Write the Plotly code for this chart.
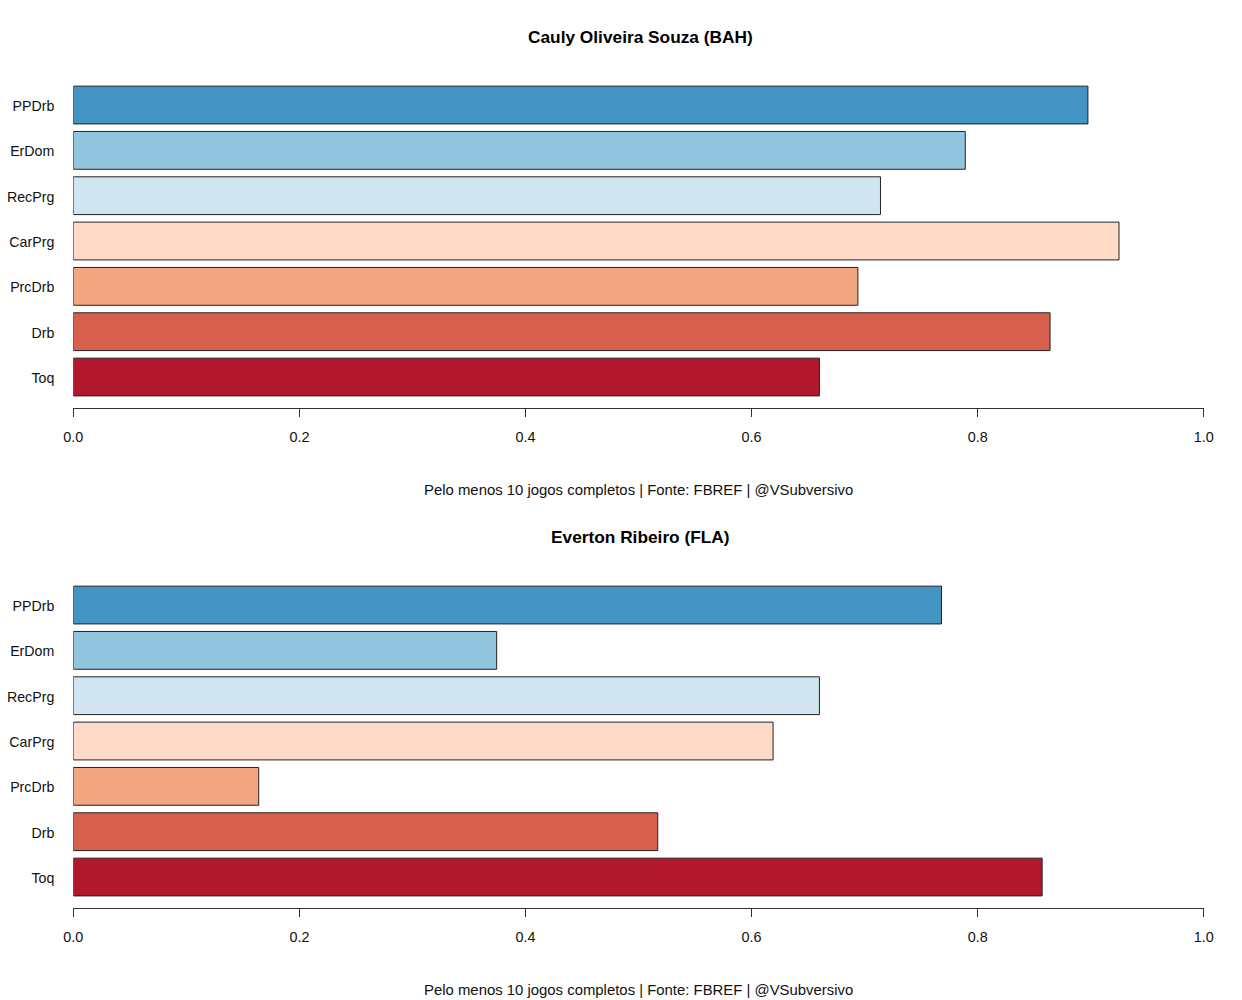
import plotly.graph_objects as go

# Data
categories = ["Toq", "Drb", "PrcDrb", "CarPrg", "RecPrg", "ErDom", "PPDrb"]  # bottom -> top
colors = ["#B2182B", "#D6604D", "#F4A582", "#FDDBC7", "#D1E5F0", "#92C5DE", "#4393C3"]
player1 = "Cauly Oliveira Souza (BAH)"
values1 = [0.660, 0.864, 0.694, 0.925, 0.714, 0.789, 0.8975]
player2 = "Everton Ribeiro (FLA)"
values2 = [0.857, 0.517, 0.164, 0.619, 0.660, 0.3745, 0.768]
caption = "Pelo menos 10 jogos completos | Fonte: FBREF | @VSubversivo"
x_ticks = [0.0, 0.2, 0.4, 0.6, 0.8, 1.0]
x_ticklabels = ["0.0", "0.2", "0.4", "0.6", "0.8", "1.0"]

FONT = "Liberation Sans, Arial, Helvetica, sans-serif"
W, H = 1242, 1000
OFF = 8  # page body margin

fig = go.Figure()
fig.add_trace(go.Bar(y=categories, x=values1, orientation="h",
                     marker=dict(color=colors, line=dict(color="#222222", width=1)),
                     xaxis="x", yaxis="y", showlegend=False, hoverinfo="x+y"))
fig.add_trace(go.Bar(y=categories, x=values2, orientation="h",
                     marker=dict(color=colors, line=dict(color="#222222", width=1)),
                     xaxis="x2", yaxis="y2", showlegend=False, hoverinfo="x+y"))

x_dom = [(73.3 - OFF) / W, (1203.8 - OFF) / W]
top1, bot1 = 70.0 - OFF, 408.3 - OFF
top2, bot2 = 570.0 - OFF, 908.3 - OFF

def xax(anchor):
    return dict(domain=x_dom, range=[0, 1], anchor=anchor, automargin=False,
                showgrid=False, zeroline=False, showline=True,
                linecolor="#333333", linewidth=1,
                ticks="outside", ticklen=8, tickwidth=1, tickcolor="#333333",
                tickvals=x_ticks, ticktext=x_ticklabels,
                tickfont=dict(family=FONT, size=14.4, color="#111111"),
                ticklabelstandoff=7, fixedrange=True)

def yax(anchor, top, bot):
    return dict(domain=[1 - bot / H, 1 - top / H], anchor=anchor, automargin=False,
                type="category", categoryorder="array", categoryarray=categories,
                range=[-0.69, 6.773], showgrid=False, zeroline=False,
                showline=False, ticks="", ticklabelstandoff=18, ticklabelshift=1,
                tickfont=dict(family=FONT, size=14.2, color="#111111"),
                fixedrange=True)

annotations = []
for title, t_y, c_y in [(player1, 37, 490), (player2, 537, 990)]:
    annotations.append(dict(text="<b>%s</b>" % title, xref="paper", yref="paper",
                            x=(x_dom[0] + x_dom[1]) / 2 + 2 / W, y=1 - (t_y - OFF) / H,
                            xanchor="center", yanchor="middle", showarrow=False,
                            font=dict(family=FONT, size=17.3, color="#000000")))
    annotations.append(dict(text=caption, xref="paper", yref="paper",
                            x=(x_dom[0] + x_dom[1]) / 2, y=1 - (c_y - OFF) / H,
                            xanchor="center", yanchor="middle", showarrow=False,
                            font=dict(family=FONT, size=14.9, color="#111111")))

fig.update_layout(
    width=W, height=H,
    margin=dict(l=0, r=0, t=0, b=0, autoexpand=False),
    paper_bgcolor="white", plot_bgcolor="white",
    bargap=1 / 6,
    xaxis=xax("y"), yaxis=yax("x", top1, bot1),
    xaxis2=xax("y2"), yaxis2=yax("x2", top2, bot2),
    annotations=annotations,
    font=dict(family=FONT),
)

fig.write_html("out.html")
